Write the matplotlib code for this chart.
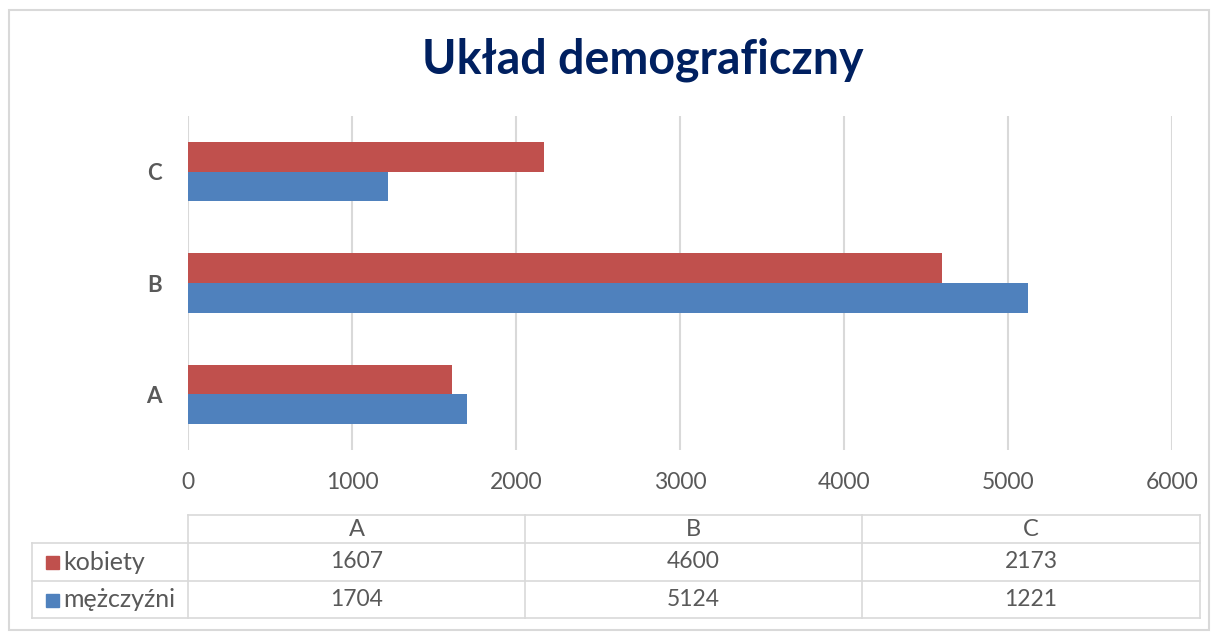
#!/usr/bin/env python

import matplotlib.pyplot as plt

plt.rcParams['font.family'] = ['Lato', 'DejaVu Sans']

categories = ['A', 'B', 'C']
series_names = ['kobiety', 'mężczyźni']
kobiety = [1607, 4600, 2173]
mezczyzni = [1704, 5124, 1221]
x_ticks = [0, 1000, 2000, 3000, 4000, 5000, 6000]

red = '#C0504D'
blue = '#4F81BD'
grid_col = '#D9D9D9'
text_col = '#595959'
title_col = '#002060'

W, H = 1216, 639


def main():
    fig = plt.figure(figsize=(W / 100, H / 100), dpi=100)

    # background layer in pixel coordinates: border, title, data table
    bg = fig.add_axes([0, 0, 1, 1])
    bg.set_xlim(0, W)
    bg.set_ylim(H, 0)
    bg.axis('off')
    bg.add_patch(plt.Rectangle((9, 10), 1200, 620, fill=False,
                               edgecolor=grid_col, linewidth=1.5))
    bg.text(643, 60, 'Układ demograficzny', ha='center', va='center',
            fontsize=33.5, fontweight='bold', color=title_col)

    # bar chart
    ax = fig.add_axes([188 / W, (H - 450) / H, (1172 - 188) / W, 334 / H])
    h = 0.265
    pos = range(len(categories))
    ax.barh([p + h / 2 for p in pos], kobiety, height=h, color=red,
            label=series_names[0], zorder=2)
    ax.barh([p - h / 2 for p in pos], mezczyzni, height=h, color=blue,
            label=series_names[1], zorder=2)
    ax.set_xlim(0, 6000)
    ax.set_ylim(-0.5, len(categories) - 0.5)
    ax.set_xticks(x_ticks)
    ax.set_xticklabels([str(t) for t in x_ticks], fontsize=16.5, color=text_col)
    ax.set_yticks(list(pos))
    ax.set_yticklabels(categories, fontsize=16, fontweight='bold',
                       color=text_col)
    ax.tick_params(length=0, axis='x', pad=16)
    ax.tick_params(length=0, axis='y', pad=19)
    ax.grid(axis='x', color=grid_col, linewidth=1.5, zorder=0)
    for s in ax.spines.values():
        s.set_visible(False)

    # data table under the chart
    col_x = [188, 525, 862, 1200]
    row_y = [515, 543, 581, 618]
    lw = 1.2
    bg.plot([col_x[0], col_x[-1]], [row_y[0], row_y[0]], color=grid_col, lw=lw)
    for y in row_y[1:]:
        bg.plot([32, col_x[-1]], [y, y], color=grid_col, lw=lw)
    for x in col_x:
        bg.plot([x, x], [row_y[0], row_y[-1]], color=grid_col, lw=lw)
    bg.plot([32, 32], [row_y[1], row_y[-1]], color=grid_col, lw=lw)

    for i, cat in enumerate(categories):
        cx = (col_x[i] + col_x[i + 1]) / 2
        bg.text(cx, (row_y[0] + row_y[1]) / 2 + 1, cat, ha='center',
                va='center', fontsize=17, color=text_col)
    rows = [(series_names[0], kobiety, red), (series_names[1], mezczyzni, blue)]
    for r, (name, vals, col) in enumerate(rows):
        cy = (row_y[r + 1] + row_y[r + 2]) / 2
        bg.add_patch(plt.Rectangle((46, cy - 6), 13, 13, color=col))
        bg.text(63, cy, name, ha='left', va='center', fontsize=18,
                color=text_col)
        for i, v in enumerate(vals):
            cx = (col_x[i] + col_x[i + 1]) / 2
            bg.text(cx, cy, str(v), ha='center', va='center', fontsize=16.5,
                    color=text_col)

    plt.savefig('out.png', dpi=100)


if __name__ == '__main__':
    main()
